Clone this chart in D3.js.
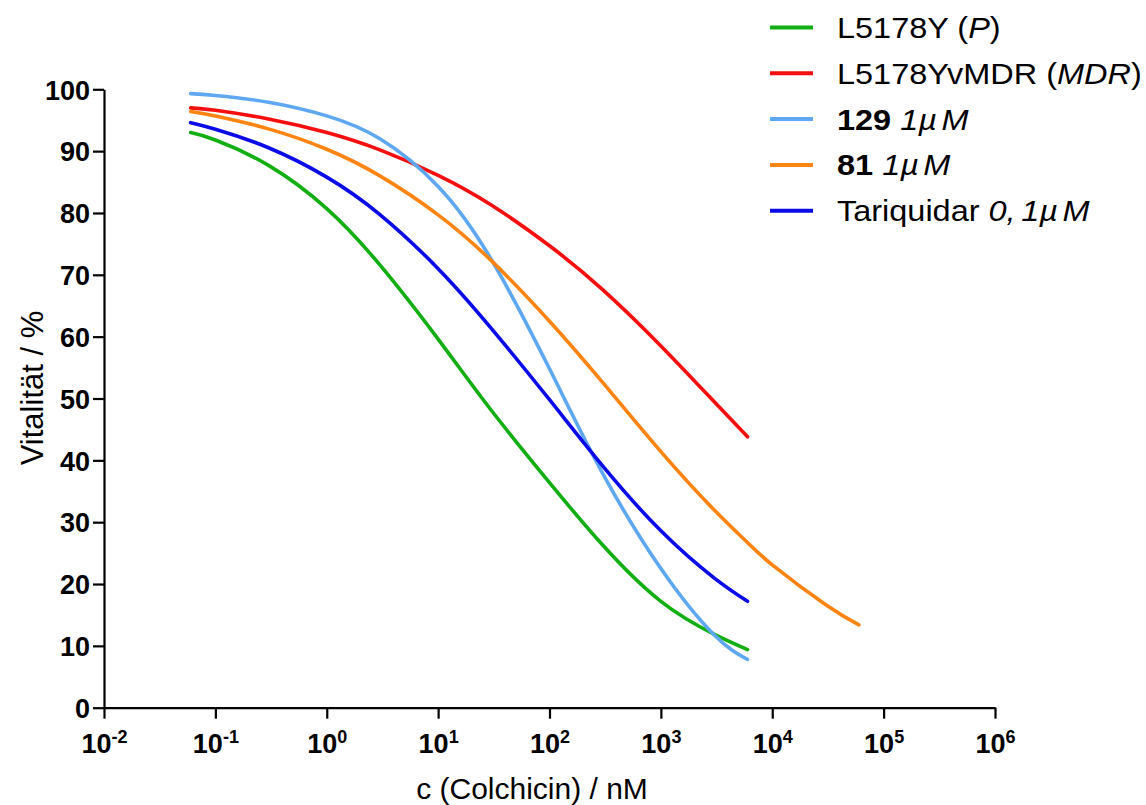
<!DOCTYPE html>
<html>
<head>
<meta charset="utf-8">
<script src="https://cdn.jsdelivr.net/npm/d3@7/dist/d3.min.js"></script>
<style>
  html, body { margin: 0; padding: 0; background: #fff; }
  svg { display: block; }
  text { font-family: "Liberation Sans", Arial, Helvetica, sans-serif; fill: #000; }
</style>
</head>
<body>
<svg id="chart" width="1146" height="805"></svg>
<script>
// Colchicin concentrations (nM) at which the dose-response curves are drawn
const concentrations = [0.06, 0.1, 0.3, 1, 3, 10, 30, 100, 300, 1000, 3000, 6000];
const concentrationsLong = [0.06, 0.1, 0.3, 1, 3, 10, 30, 100, 300, 1000, 3000, 6000, 10000, 30000, 60000];

// Vitality (%) per cell line / modulator
const vitalityP        = [93.0, 91.8, 87.7, 80.7, 71.6, 59.6, 48.1, 36.4, 26.3, 17.2, 11.9, 9.4];
const vitalityMDR      = [97.0, 96.6, 95.2, 93.0, 90.2, 86.1, 81.3, 74.7, 67.6, 58.5, 49.5, 43.8];
const vitality129      = [99.3, 99.0, 97.9, 95.7, 92.0, 84.3, 72.5, 54.8, 37.9, 22.5, 11.8, 7.8];
const vitality81       = [96.4, 95.7, 93.6, 90.3, 86.0, 79.7, 72.3, 62.5, 52.6, 41.4, 32.0, 26.7, 23.1, 16.7, 13.4];
const vitalityTariq    = [94.6, 93.55, 90.55, 85.8, 79.75, 71.0, 61.35, 49.8, 39.1, 28.6, 21.0, 17.2];

// Axis ticks
const xTickExponents = [-2, -1, 0, 1, 2, 3, 4, 5, 6];
const yTickValues = [0, 10, 20, 30, 40, 50, 60, 70, 80, 90, 100];

// Legend labels as text runs (b = bold, i = italic)
const legendLabels = [
  [{ t: "L5178Y (" }, { t: "P", i: true }, { t: ")" }],
  [{ t: "L5178YvMDR (" }, { t: "MDR", i: true }, { t: ")" }],
  [{ t: "129", b: true }, { t: " 1µ", i: true }, { t: "M", i: true, dx: 4 }],
  [{ t: "81", b: true }, { t: " 1µ", i: true }, { t: "M", i: true, dx: 4 }],
  [{ t: "Tariquidar " }, { t: "0,", i: true }, { t: "1µ", i: true, dx: 5 }, { t: "M", i: true, dx: 4 }]
];

const seriesColors = ["#12ae12", "#f50f0f", "#5ea8f2", "#ff8412", "#0b0be8"];

const series = [
  { c: concentrations, v: vitalityP },
  { c: concentrations, v: vitalityMDR },
  { c: concentrations, v: vitality129 },
  { c: concentrationsLong, v: vitality81 },
  { c: concentrations, v: vitalityTariq }
];

const svg = d3.select("#chart");
svg.append("rect").attr("width", 1146).attr("height", 805).attr("fill", "#fff");

const x = d3.scaleLog().domain([1e-2, 1e6]).range([104, 995]);
const y = d3.scaleLinear().domain([0, 100]).range([707.7, 89.3]);

// Y axis
const yAxis = svg.append("g")
  .attr("transform", `translate(${x(1e-2)},0)`)
  .call(d3.axisLeft(y).tickValues(yTickValues).tickSize(11).tickSizeOuter(0).tickPadding(3));
yAxis.select(".domain").attr("stroke", "#000").attr("stroke-width", 2.2);
yAxis.selectAll(".tick line").attr("stroke", "#000").attr("stroke-width", 2.2);
yAxis.selectAll(".tick text")
  .attr("font-size", 27).attr("font-weight", "bold")
  .attr("font-family", "'Liberation Sans', Arial, sans-serif")
  .attr("fill", "#000").attr("dy", "0.36em");

// X axis
const xAxis = svg.append("g")
  .attr("transform", `translate(0,${y(0)})`)
  .call(d3.axisBottom(x)
    .tickValues(xTickExponents.map(e => Math.pow(10, e)))
    .tickSize(11).tickSizeOuter(0).tickFormat(""));
xAxis.select(".domain").attr("stroke", "#000").attr("stroke-width", 2.2);
xAxis.selectAll(".tick line").attr("stroke", "#000").attr("stroke-width", 2.2);
xAxis.selectAll(".tick").each(function (d, i) {
  const t = d3.select(this).select("text")
    .attr("y", 45).attr("dy", null)
    .attr("text-anchor", "middle")
    .attr("font-size", 27).attr("font-weight", "bold")
    .attr("font-family", "'Liberation Sans', Arial, sans-serif")
    .attr("fill", "#000");
  t.text(null);
  t.append("tspan").text("10");
  t.append("tspan").attr("font-size", 18).attr("dy", -10).text(String(xTickExponents[i]));
});

// Axis titles
svg.append("text")
  .attr("transform", "translate(43,388) rotate(-90)")
  .attr("text-anchor", "middle")
  .attr("font-size", 31)
  .text("Vitalität / %");

svg.append("text")
  .attr("x", 532).attr("y", 799)
  .attr("text-anchor", "middle")
  .attr("font-size", 30)
  .text("c (Colchicin) / nM");

// Dose-response curves
const line = d3.line()
  .x(d => x(d[0]))
  .y(d => y(d[1]))
  .curve(d3.curveNatural);

svg.append("g").selectAll("path")
  .data(series)
  .join("path")
  .attr("d", s => line(s.c.map((c, i) => [c, s.v[i]])))
  .attr("fill", "none")
  .attr("stroke", (s, i) => seriesColors[i])
  .attr("stroke-width", 3.6)
  .attr("stroke-linecap", "round")
  .attr("stroke-linejoin", "round");

// Legend
const legend = svg.append("g");
legendLabels.forEach((runs, i) => {
  const cy = 27.5 + i * 45.8;
  legend.append("line")
    .attr("x1", 770).attr("x2", 813)
    .attr("y1", cy).attr("y2", cy)
    .attr("stroke", seriesColors[i]).attr("stroke-width", 4);
  const t = legend.append("text")
    .attr("transform", `translate(837,${cy + 10.4}) scale(1.12,1)`)
    .attr("font-size", 29);
  runs.forEach(r => {
    const ts = t.append("tspan").text(r.t);
    if (r.b) ts.attr("font-weight", "bold");
    if (r.i) ts.attr("font-style", "italic");
    if (r.dx) ts.attr("dx", r.dx);
  });
});
</script>
</body>
</html>
